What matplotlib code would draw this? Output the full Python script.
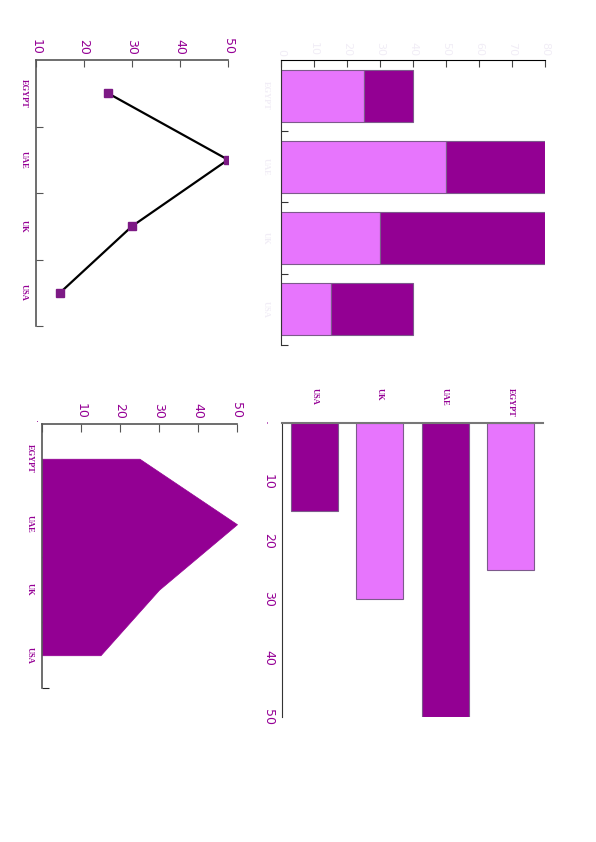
import matplotlib
matplotlib.use('Agg')
import matplotlib.pyplot as plt

countries = ['EGYPT', 'UAE', 'UK', 'USA']
values = [25, 50, 30, 15]
stack_low = [25, 50, 30, 15]
stack_high = [15, 30, 50, 25]
bar_order = ['USA', 'UK', 'UAE', 'EGYPT']
bar_values = [15, 30, 50, 25]

dark = '#930093'
light = '#e775fd'
edge = '#7d5a8c'
txt = '#950095'
faint = '#f1edf6'
axcol = '#555555'
serif = 'Liberation Serif'

W, H = 596, 842
fig = plt.figure(figsize=(W / 100, H / 100), dpi=100)


def px(l, t, r, b):
    return [l / W, 1 - b / H, (r - l) / W, (b - t) / H]


def cat_labels_left(ax, pos, names, color, pad):
    ax.set_yticks([p + 0.5 for p in pos])
    ax.set_yticklabels([])
    ax.set_yticks(pos, minor=True)
    ax.set_yticklabels(names, minor=True, rotation=-90, va='center',
                       fontsize=6, fontweight='bold', family=serif, color=color)
    ax.tick_params(axis='y', which='minor', length=0, pad=pad)


pos = list(range(len(countries)))

# top-left: line chart
ax = fig.add_axes(px(36, 60, 228, 326))
ax.plot(values, pos, color='black', lw=1.6, marker='s', ms=5.5,
        mfc='#7d1a85', mec='#7d1a85')
ax.set_xlim(10, 50)
ax.set_ylim(3.5, -0.5)
for s in ['right', 'bottom']:
    ax.spines[s].set_visible(False)
for s in ['top', 'left']:
    ax.spines[s].set_color(axcol)
    ax.spines[s].set_linewidth(1.2)
ax.xaxis.tick_top()
ax.set_xticks([10, 20, 30, 40, 50])
ax.tick_params(axis='x', direction='in', length=5, color=axcol, pad=4,
               labelsize=9, labelcolor=txt, labelrotation=-90)
cat_labels_left(ax, pos, countries, txt, 6)
ax.tick_params(axis='y', which='major', direction='in', length=5, color=axcol)

# top-right: stacked horizontal bars
ax = fig.add_axes(px(281, 60, 545, 345))
ax.barh(pos, stack_low, height=0.73, color=light, edgecolor=edge, lw=0.8)
ax.barh(pos, stack_high, left=stack_low, height=0.73, color=dark,
        edgecolor=edge, lw=0.8)
ax.set_xlim(0, 80)
ax.set_ylim(3.5, -0.5)
for s in ['right', 'bottom']:
    ax.spines[s].set_visible(False)
ax.spines['top'].set_color('black')
ax.spines['left'].set_color('#333333')
ax.xaxis.tick_top()
ax.set_xticks(range(0, 90, 10))
ax.tick_params(axis='x', direction='in', length=5, color='#444444', pad=3,
               labelsize=8, labelcolor=faint, labelrotation=-90)
cat_labels_left(ax, pos, countries, faint, 8)
ax.tick_params(axis='y', which='major', direction='in', length=5, color='#333333')

# bottom-left: area chart
ax = fig.add_axes(px(42, 424, 237, 688))
ax.fill_betweenx(pos, 0, values, color=dark, lw=0.5, edgecolor=dark)
ax.set_axisbelow(True)
ax.set_xlim(0, 50)
ax.set_ylim(3.5, -0.53)
for s in ['right', 'bottom']:
    ax.spines[s].set_visible(False)
for s in ['top', 'left']:
    ax.spines[s].set_color(axcol)
    ax.spines[s].set_linewidth(1.2)
ax.xaxis.tick_top()
ax.set_xticks([0, 10, 20, 30, 40, 50])
ax.set_xticklabels(['', '10', '20', '30', '40', '50'])
ax.tick_params(axis='x', direction='in', length=6, color=axcol, pad=4,
               labelsize=9, labelcolor=txt, labelrotation=-90)
ax.text(-0.015, 1.0, '.', transform=ax.transAxes, color=txt, fontsize=7,
        ha='right', va='bottom')
cat_labels_left(ax, pos, countries, txt, 6)
ax.tick_params(axis='y', which='major', direction='in', length=5, color='#222222')

# bottom-right: bar chart
bpos = list(range(len(bar_order)))
ax = fig.add_axes(px(282, 423, 543, 717))
ax.bar(bpos, bar_values, width=0.72, color=[dark, light, dark, light],
       edgecolor=edge, lw=0.8)
ax.set_xlim(-0.5, 3.5)
ax.set_ylim(50, 0)
for s in ['right', 'bottom']:
    ax.spines[s].set_visible(False)
ax.spines['top'].set_color('#777777')
ax.spines['top'].set_linewidth(1.5)
ax.spines['left'].set_color('#333333')
ax.xaxis.tick_top()
ax.set_xticks(bpos)
ax.set_xticklabels(bar_order, rotation=-90, fontsize=6, fontweight='bold',
                   family=serif, color=txt)
for lbl in ax.get_xticklabels():
    lbl.set_va('top')
ax.tick_params(axis='x', length=0, pad=25)
ax.set_yticks([0, 10, 20, 30, 40, 50])
ax.set_yticklabels(['.', '10', '20', '30', '40', '50'])
ax.tick_params(axis='y', length=0, pad=5, labelsize=9, labelcolor=txt,
               labelrotation=-90)
for lbl in ax.get_yticklabels():
    lbl.set_va('center')

fig.savefig('out.png', dpi=100)
